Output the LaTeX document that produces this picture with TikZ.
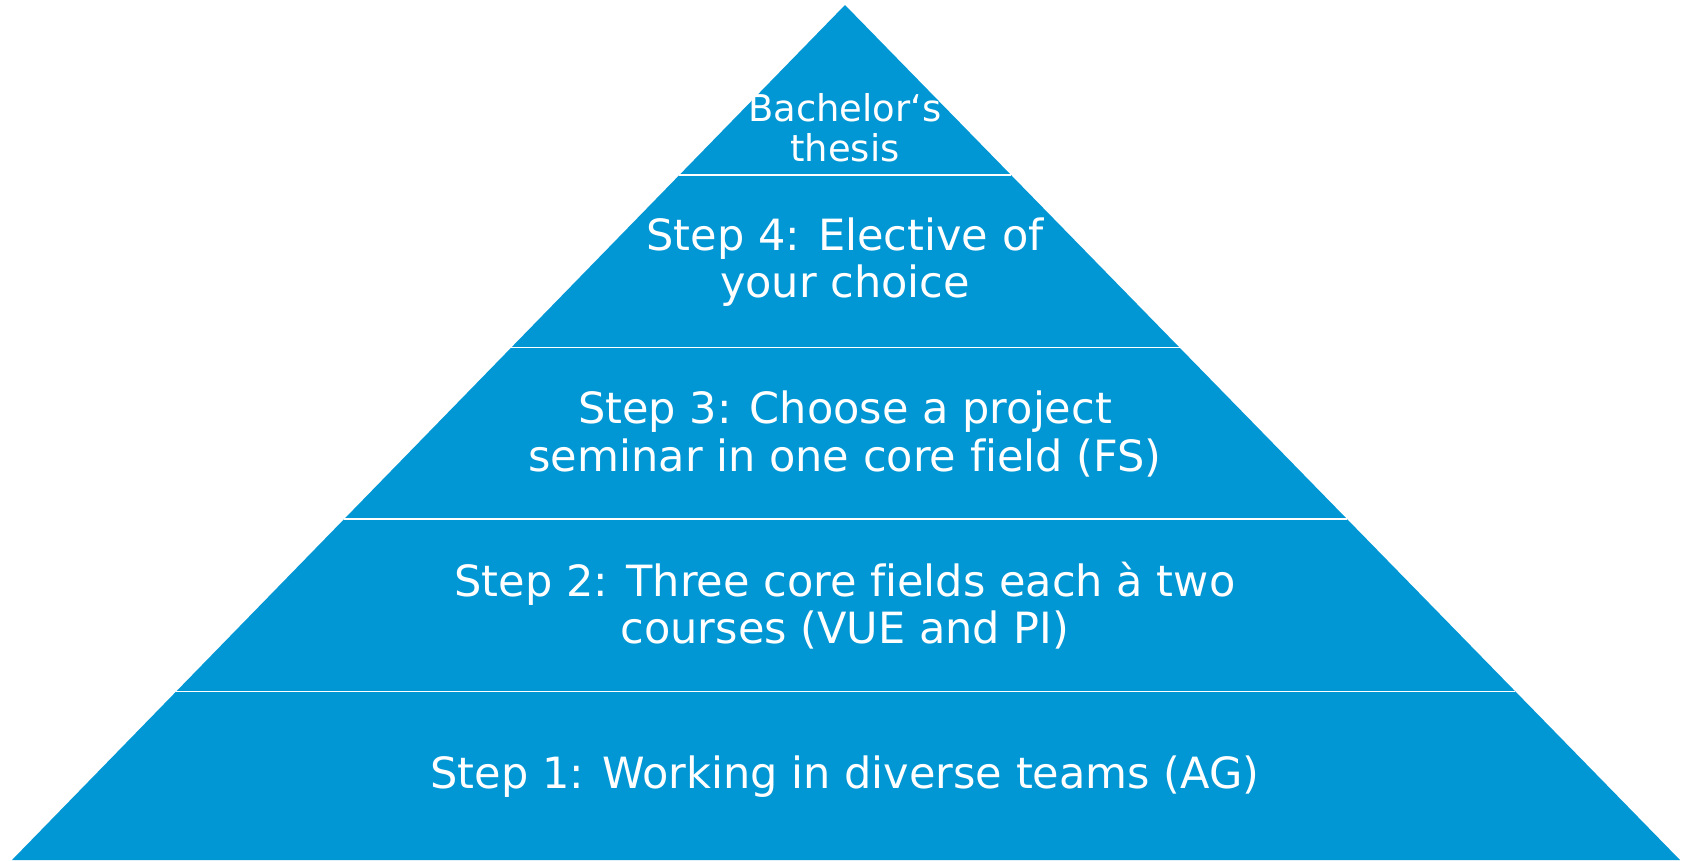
\documentclass[tikz,border=0pt]{standalone}
\usepackage{fontspec}
\setmainfont[Ligatures=NoCommon]{DejaVu Sans}
\usepackage{xcolor}
\usepackage{tikz}
\usetikzlibrary{calc}
\definecolor{pyrblue}{RGB}{0,151,212}

\begin{document}
\begin{tikzpicture}[x=0.02cm, y=-0.02cm, layer/.style={text=white, align=center, inner sep=0pt, font=\fontsize{24.5}{26.8}\selectfont}, top/.style={layer, font=\fontsize{21}{23}\selectfont}, sep/.style={draw=white, line width=1.1pt}]
\useasboundingbox (0,0) rectangle (1685,860);
\coordinate (apex) at (845,5);
\coordinate (bl) at (12,860);
\coordinate (br) at (1680,860);
\fill[pyrblue] (apex) -- (bl) -- (br) -- cycle;

% separators between the steps
\foreach \t in {0.1988,0.4006,0.6012,0.8029}
  \draw[sep] ($(apex)!\t!(bl)$) -- ($(apex)!\t!(br)$);

\node[top] (thesis) at (845,128) {Bachelor‘s\\thesis};
\node[layer] (step4) at (845,262) {Step 4: Elective of\\your choice};
\node[layer] (step3) at (845,434) {Step 3: Choose a project\\seminar in one core field (FS)};
\node[layer] (step2) at (845,606) {Step 2: Three core fields each à two\\courses (VUE and PI)};
\node[layer] (step1) at (845,777) {Step 1: Working in diverse teams (AG)};
\end{tikzpicture}
\end{document}
